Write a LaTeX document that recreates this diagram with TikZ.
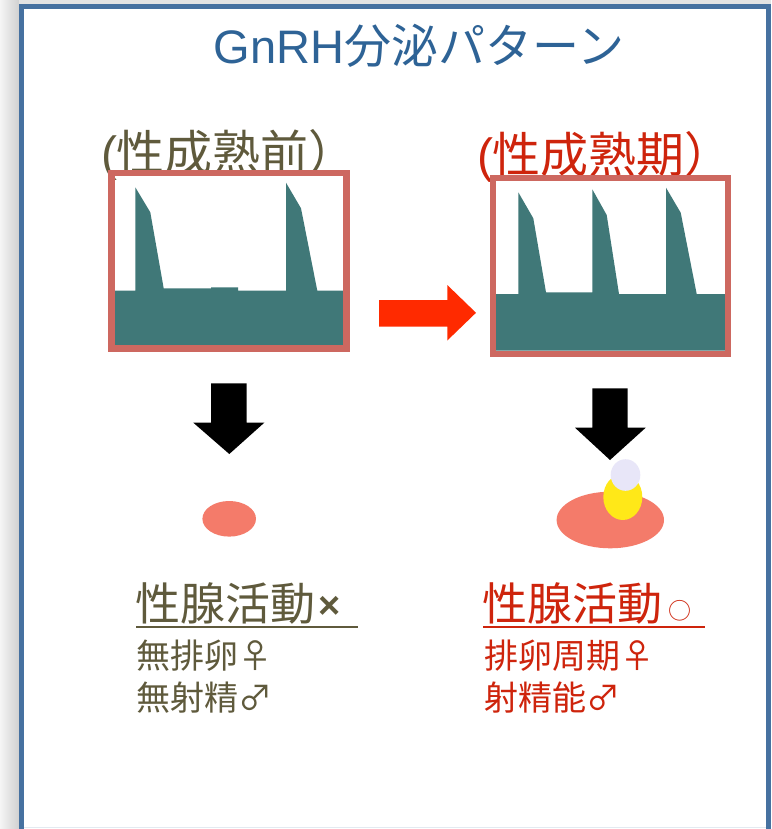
\documentclass[tikz,border=0pt]{standalone}
\usepackage{fontspec}
\setmainfont{Liberation Sans}
\newfontfamily\cjk{Noto Sans CJK JP}
\usetikzlibrary{calc}

\definecolor{frameblue}{RGB}{70,113,160}
\definecolor{titleblue}{RGB}{46,99,150}
\definecolor{olivetext}{RGB}{95,90,60}
\definecolor{redtext}{RGB}{206,36,12}
\definecolor{chartedge}{RGB}{205,104,96}
\definecolor{pulseteal}{RGB}{64,120,120}
\definecolor{arrowred}{RGB}{255,42,0}
\definecolor{gonad}{RGB}{244,123,106}
\definecolor{follicle}{RGB}{255,232,24}
\definecolor{ovum}{RGB}{232,230,248}

\tikzset{
  label/.style={anchor=base west, inner sep=0pt, outer sep=0pt},
  headfont/.style={font=\fontsize{48}{52}\selectfont},
  mainfont/.style={font=\fontsize{45}{50}\selectfont\cjk},
  subfont/.style={font=\fontsize{34}{40}\selectfont\cjk},
  pulsefill/.style={fill=pulseteal},
  chartbox/.style={draw=chartedge, line width=6.3pt},
  blockarrow/.style={fill=black},
}

\begin{document}
\begin{tikzpicture}[x=1pt, y=-1pt]
  \useasboundingbox (0,0) rectangle (771,829);
  \clip (0,0) rectangle (771,829);

  % drop shadow of the slide panel
  \shade[left color=gray!8, right color=gray!40] (0,0) rectangle (21,829);
  \fill[gray!22] (19,0) rectangle (771,6);

  % slide panel
  \fill[white] (21.5,6.5) rectangle (768.5,850);
  \draw[frameblue, line width=5pt] (21.5,6.5) rectangle (768.5,850);
  \draw[frameblue!15, line width=1.5pt] (24,827.5) -- (766,827.5);

  % title
  \node[anchor=base, inner sep=0pt, text=titleblue,
        font=\fontsize{47}{52}\selectfont] (title) at (419,64)
        {GnRH{\cjk 分泌パターン}};

  % headings
  \node[label, headfont, text=olivetext] (preHead) at (101,171)
        {({\cjk 性成熟前）}};
  \node[label, headfont, text=redtext] (postHead) at (477,172)
        {({\cjk 性成熟期）}};

  % pulse pattern before puberty
  \fill[pulsefill] (115,345) -- (115,290.7) -- (135.3,290.7) -- (135.3,187.3)
        -- (150.3,212.3) -- (163.7,288.4) -- (211,288.4) -- (211,287.4)
        -- (238,287.4) -- (238,290.7) -- (286,290.7) -- (286,182.7)
        -- (301,208.3) -- (317.3,290.7) -- (343,290.7) -- (343,345) -- cycle;
  \draw[chartbox] (111.5,173) rectangle (346.5,348.5);

  % pulse pattern after puberty
  \fill[pulsefill] (496,350.7) -- (496,294) -- (518.3,294) -- (518.3,192.3)
        -- (533.3,218.3) -- (546,292.3) -- (592.3,292.3) -- (592.3,189.3)
        -- (606.7,215) -- (619,294) -- (666,294) -- (666,187.7)
        -- (680.7,212.7) -- (696.7,294) -- (725,294) -- (725,350.7) -- cycle;
  \draw[chartbox] (493,178.3) rectangle (728,353.7);

  % transition arrow
  \fill[arrowred] (379,300) -- (447.3,300) -- (447.3,285) -- (476,312.8)
        -- (447.3,340.5) -- (447.3,326.7) -- (379,326.7) -- cycle;

  % downward arrows
  \fill[blockarrow] (211,383.3) -- (246.7,383.3) -- (246.7,422.7) -- (264.3,422.7)
        -- (229.3,454) -- (193.3,422.7) -- (211,422.7) -- cycle;
  \fill[blockarrow] (592.3,388.3) -- (627.7,388.3) -- (627.7,427.7) -- (645.7,427.7)
        -- (610,460) -- (575,427.7) -- (592.3,427.7) -- cycle;

  % gonads
  \fill[gonad] (229.2,518.8) ellipse [x radius=26.8, y radius=17.8];
  \fill[gonad] (610.3,520) ellipse [x radius=53.7, y radius=28.3];
  \fill[follicle] (622.8,497) ellipse [x radius=19.5, y radius=23];
  \fill[ovum] (625.5,475) ellipse [x radius=14.8, y radius=15.8];

  % outcome labels, before puberty
  \node[label, mainfont, text=olivetext] (preGonad) at (135,620)
        {性腺活動\hspace{3pt}{\rmfamily\bfseries\fontsize{38}{38}\selectfont\raisebox{2pt}{×}}};
  \draw[olivetext, line width=2.8pt] ($(preGonad.base west)+(1,7)$) -- ++(222,0);
  \node[label, subfont, text=olivetext] (preOvul) at (136,668) {無排卵♀};
  \node[label, subfont, text=olivetext] (preSperm) at (136,710) {無射精♂};

  % outcome labels, after puberty
  \node[label, mainfont, text=redtext] (postGonad) at (482,620)
        {性腺活動\hspace{6pt}{\fontsize{23}{23}\selectfont\raisebox{1pt}{○}}};
  \draw[redtext, line width=2.8pt] ($(postGonad.base west)+(1,7)$) -- ++(222,0);
  \node[label, subfont, text=redtext] (postOvul) at (484,668) {排卵周期♀};
  \node[label, subfont, text=redtext] (postSperm) at (484,710) {射精能♂};
\end{tikzpicture}
\end{document}
